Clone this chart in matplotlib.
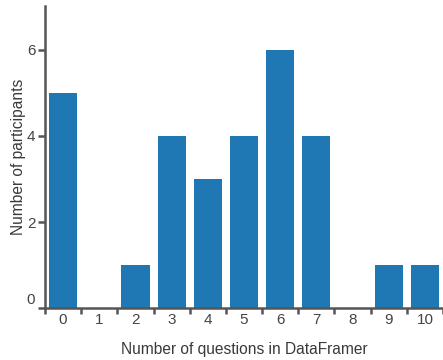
import matplotlib.pyplot as plt
import matplotlib.transforms as mtransforms
import numpy as np

# questions answered vs participant count
questions = list(range(11))
participants = [5, 0, 1, 4, 3, 4, 6, 4, 0, 1, 1]
yticks = [0, 2, 4, 6]

plt.rcParams['font.family'] = ['Liberation Sans', 'DejaVu Sans']
grey = '#555555'

fig = plt.figure(figsize=(4.43, 3.6), dpi=100)
ax = fig.add_axes([0.1016, 0.1444, 0.8984, 0.8386])

ax.bar(questions, participants, width=0.78, color='#1f77b4')

ax.set_xlim(-0.5, 10.5)
ax.set_ylim(0, 7.02)

for s in ['top', 'right']:
    ax.spines[s].set_visible(False)
for s in ['left', 'bottom']:
    ax.spines[s].set_color(grey)
    ax.spines[s].set_linewidth(1.8)

ax.set_xticks(questions)
ax.set_xticks(np.arange(-0.5, 10.6, 1), minor=True)
ax.tick_params(axis='x', which='major', length=0, pad=3.5, labelsize=11, labelcolor='#444444')
ax.tick_params(axis='x', which='minor', length=4, width=1.8, color=grey)
ax.set_yticks(yticks)
ax.tick_params(axis='y', length=5, width=1.8, color=grey, pad=2, labelsize=11, labelcolor='#444444')

# the 0 label sits a bit above the baseline
lab0 = ax.get_yticklabels()[0]
lab0.set_transform(lab0.get_transform() + mtransforms.ScaledTranslation(0, 6.5 / 72, fig.dpi_scale_trans))

ax.set_xlabel('Number of questions in DataFramer', fontsize=11.2, color='#3a3a3a')
ax.set_ylabel('Number of participants', fontsize=11.2, color='#3a3a3a')
ax.xaxis.set_label_coords(0.5, -0.136)
ax.yaxis.set_label_coords(-0.066, 0.5)
ax.xaxis.label.set_va('center')
ax.yaxis.label.set_va('center')

fig.savefig('out.png', dpi=100)
